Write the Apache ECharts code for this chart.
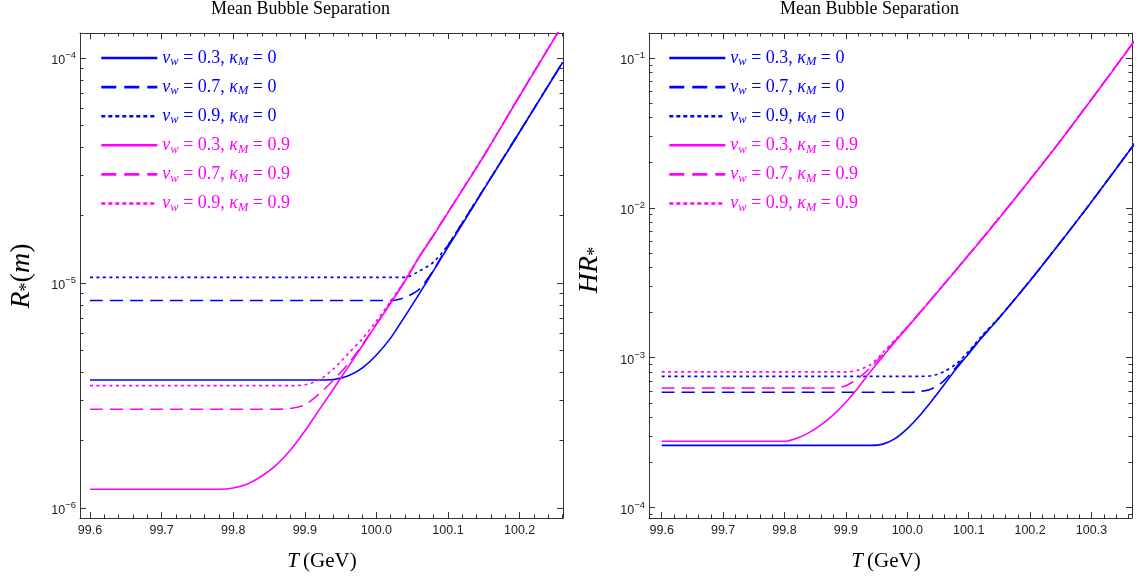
<!DOCTYPE html>
<html><head><meta charset="utf-8">
<script src="https://cdn.jsdelivr.net/npm/echarts@6/dist/echarts.min.js"></script>
<style>html,body{margin:0;padding:0;background:#fff}#c{width:1141px;height:581px}</style>
</head><body><div id="c"></div>
<script>
// ---------- data ----------
const seriesNames = ['vw=0.3,kM=0','vw=0.7,kM=0','vw=0.9,kM=0','vw=0.3,kM=0.9','vw=0.7,kM=0.9','vw=0.9,kM=0.9'];
const vwLabels = ['0.3','0.7','0.9','0.3','0.7','0.9'];
const kappaLabels = ['0','0','0','0.9','0.9','0.9'];

// Left panel: R_*(m) vs T (GeV)
const leftT = [99.6,99.7,99.78,99.8,99.82,99.84,99.86,99.88,99.9,99.92,99.94,99.96,99.98,100.0,100.02,100.04,100.06,100.08,100.1,100.12,100.15,100.2,100.26];
const leftR_vw03_k0 = [3.707e-6,3.707e-6,3.707e-6,3.707e-6,3.707e-6,3.707e-6,3.707e-6,3.707e-6,3.707e-6,3.707e-6,3.724e-6,3.864e-6,4.188e-6,4.786e-6,5.702e-6,7.129e-6,8.974e-6,1.138e-5,1.445e-5,1.828e-5,2.606e-5,4.688e-5,9.550e-5];
const leftR_vw07_k0 = [8.356e-6,8.356e-6,8.356e-6,8.356e-6,8.356e-6,8.356e-6,8.356e-6,8.356e-6,8.356e-6,8.356e-6,8.356e-6,8.356e-6,8.356e-6,8.356e-6,8.356e-6,8.630e-6,9.397e-6,1.143e-5,1.469e-5,1.849e-5,2.618e-5,4.699e-5,9.560e-5];
const leftR_vw09_k0 = [1.059e-5,1.059e-5,1.059e-5,1.059e-5,1.059e-5,1.059e-5,1.059e-5,1.059e-5,1.059e-5,1.059e-5,1.059e-5,1.059e-5,1.059e-5,1.059e-5,1.059e-5,1.059e-5,1.130e-5,1.239e-5,1.476e-5,1.858e-5,2.624e-5,4.700e-5,9.570e-5];
const leftR_vw03_k09 = [1.211e-6,1.211e-6,1.211e-6,1.227e-6,1.279e-6,1.387e-6,1.552e-6,1.811e-6,2.198e-6,2.729e-6,3.381e-6,4.207e-6,5.248e-6,6.546e-6,8.147e-6,1.021e-5,1.306e-5,1.633e-5,2.056e-5,2.588e-5,3.664e-5,6.776e-5,1.403e-4];
const leftR_vw07_k09 = [2.748e-6,2.748e-6,2.748e-6,2.748e-6,2.748e-6,2.748e-6,2.748e-6,2.767e-6,2.871e-6,3.214e-6,3.707e-6,4.345e-6,5.297e-6,6.577e-6,8.170e-6,1.024e-5,1.310e-5,1.638e-5,2.062e-5,2.595e-5,3.672e-5,6.790e-5,1.405e-4];
const leftR_vw09_k09 = [3.499e-6,3.499e-6,3.499e-6,3.499e-6,3.499e-6,3.499e-6,3.499e-6,3.499e-6,3.524e-6,3.707e-6,4.150e-6,4.831e-6,5.636e-6,6.776e-6,8.318e-6,1.030e-5,1.315e-5,1.640e-5,2.065e-5,2.600e-5,3.680e-5,6.800e-5,1.406e-4];

// Right panel: H R_* vs T (GeV)
const rightT = [99.6,99.7,99.8,99.82,99.84,99.86,99.88,99.9,99.92,99.94,99.96,99.98,100.0,100.02,100.04,100.06,100.08,100.1,100.12,100.15,100.2,100.25,100.3,100.37];
const rightHR_vw03_k0 = [2.600e-4,2.600e-4,2.600e-4,2.600e-4,2.600e-4,2.600e-4,2.600e-4,2.600e-4,2.600e-4,2.600e-4,2.649e-4,2.884e-4,3.365e-4,4.102e-4,5.164e-4,6.607e-4,8.453e-4,1.064e-3,1.340e-3,1.849e-3,3.258e-3,5.929e-3,1.096e-2,2.673e-2];
const rightHR_vw07_k0 = [5.875e-4,5.875e-4,5.875e-4,5.875e-4,5.875e-4,5.875e-4,5.875e-4,5.875e-4,5.875e-4,5.875e-4,5.875e-4,5.875e-4,5.875e-4,5.929e-4,6.209e-4,7.031e-4,8.710e-4,1.079e-3,1.349e-3,1.855e-3,3.265e-3,5.935e-3,1.097e-2,2.675e-2];
const rightHR_vw09_k0 = [7.499e-4,7.499e-4,7.499e-4,7.499e-4,7.499e-4,7.499e-4,7.499e-4,7.499e-4,7.499e-4,7.499e-4,7.499e-4,7.499e-4,7.499e-4,7.499e-4,7.586e-4,8.072e-4,9.120e-4,1.104e-3,1.380e-3,1.862e-3,3.270e-3,5.940e-3,1.098e-2,2.677e-2];
const rightHR_vw03_k09 = [2.767e-4,2.767e-4,2.767e-4,2.904e-4,3.162e-4,3.573e-4,4.169e-4,5.047e-4,6.310e-4,8.072e-4,1.016e-3,1.279e-3,1.585e-3,1.982e-3,2.472e-3,3.090e-3,3.864e-3,4.842e-3,6.067e-3,8.570e-3,1.538e-2,2.818e-2,5.284e-2,1.297e-1];
const rightHR_vw07_k09 = [6.281e-4,6.281e-4,6.281e-4,6.281e-4,6.281e-4,6.281e-4,6.281e-4,6.501e-4,7.295e-4,8.570e-4,1.047e-3,1.297e-3,1.596e-3,1.992e-3,2.484e-3,3.105e-3,3.883e-3,4.866e-3,6.097e-3,8.610e-3,1.545e-2,2.830e-2,5.310e-2,1.303e-1];
const rightHR_vw09_k09 = [8.035e-4,8.035e-4,8.035e-4,8.035e-4,8.035e-4,8.035e-4,8.035e-4,8.035e-4,8.260e-4,8.974e-4,1.079e-3,1.318e-3,1.611e-3,1.995e-3,2.488e-3,3.110e-3,3.890e-3,4.870e-3,6.100e-3,8.620e-3,1.546e-2,2.832e-2,5.315e-2,1.304e-1];

// tick labels
const xTickLabelsLeft = [99.6,99.7,99.8,99.9,100.0,100.1,100.2];
const xTickLabelsRight = [99.6,99.7,99.8,99.9,100.0,100.1,100.2,100.3];
const yDecadesLeft = [-6,-5,-4];
const yDecadesRight = [-4,-3,-2,-1];
const titles = ['Mean Bubble Separation','Mean Bubble Separation'];

// ---------- chart ----------
const BLUE = '#0000ff', MAG = '#ff00ff', FRAME = '#333';
const colors = [BLUE,BLUE,BLUE,MAG,MAG,MAG];
const dashes = ['solid',[13,7],[3,3.5],'solid',[13,7],[3,3.5]];
const legendDashes = ['solid',[15,8],[4,3],'solid',[15,8],[4,3]];

function minorX(lo, hi){ const o=[]; for(let k=Math.ceil(lo*50);k<=Math.floor(hi*50);k++){ if(k%5!==0) o.push(k/50);} return o; }
function minorY(lo, hi){ const o=[]; for(let n=Math.floor(lo);n<=Math.ceil(hi);n++){ for(let m=2;m<=9;m++){ const v=n+Math.log10(m); if(v>=lo&&v<=hi) o.push(v);} } return o; }

const tickBase = {show:true, inside:true, length:6, lineStyle:{color:FRAME, width:1}};
function makeX(g, min, max, majors){
  const base = {type:'value', gridIndex:g, min, max, splitLine:{show:false},
    axisLine:{show:true,onZero:false,lineStyle:{color:FRAME,width:1}}, axisLabel:{show:false}};
  const mn = minorX(min,max);
  return [
    Object.assign({}, base, {position:'bottom', axisTick:Object.assign({},tickBase,{customValues:majors}),
      axisLabel:{show:true, customValues:majors, formatter:v=>Number(v).toFixed(1), color:'#222', fontSize:12.5, fontFamily:'Liberation Sans', margin:6}}),
    Object.assign({}, base, {position:'bottom', axisLine:{show:false}, axisTick:Object.assign({},tickBase,{length:3.5,customValues:mn})}),
    Object.assign({}, base, {position:'top', axisTick:Object.assign({},tickBase,{customValues:majors})}),
    Object.assign({}, base, {position:'top', axisLine:{show:false}, axisTick:Object.assign({},tickBase,{length:3.5,customValues:mn})})
  ];
}
function makeY(g, min, max, decs){
  const base = {type:'value', gridIndex:g, min, max, splitLine:{show:false},
    axisLine:{show:true,onZero:false,lineStyle:{color:FRAME,width:1}}, axisLabel:{show:false}};
  const mn = minorY(min,max);
  return [
    Object.assign({}, base, {position:'left', axisTick:Object.assign({},tickBase,{customValues:decs}),
      axisLabel:{show:true, customValues:decs, margin:4,
        formatter:v=>'{b|10}{s|\u2212'+Math.round(-v)+'}',
        rich:{b:{fontSize:12.5,fontFamily:'Liberation Sans',color:'#222',padding:[6,0,0,0]},
              s:{fontSize:9.5,fontFamily:'Liberation Sans',color:'#222',padding:[0,0,5,0]}}}}),
    Object.assign({}, base, {position:'left', axisLine:{show:false}, axisTick:Object.assign({},tickBase,{length:3.5,customValues:mn})}),
    Object.assign({}, base, {position:'right', axisTick:Object.assign({},tickBase,{customValues:decs})}),
    Object.assign({}, base, {position:'right', axisLine:{show:false}, axisTick:Object.assign({},tickBase,{length:3.5,customValues:mn})})
  ];
}

const leftVals = [leftR_vw03_k0,leftR_vw07_k0,leftR_vw09_k0,leftR_vw03_k09,leftR_vw07_k09,leftR_vw09_k09];
const rightVals = [rightHR_vw03_k0,rightHR_vw07_k0,rightHR_vw09_k0,rightHR_vw03_k09,rightHR_vw07_k09,rightHR_vw09_k09];

const series = [];
[[leftT,leftVals],[rightT,rightVals]].forEach(([T,vals],g)=>{
  vals.forEach((arr,i)=>{
    series.push({type:'line', name:seriesNames[i], xAxisIndex:g*4, yAxisIndex:g*4,
      data:T.map((t,k)=>[t, Math.log10(arr[k])]),
      symbol:'none', showSymbol:false, smooth:0.25, clip:true,
      lineStyle:{color:colors[i], width:1.6, type:dashes[i]}, itemStyle:{color:colors[i]},
      emphasis:{disabled:true}, z:2+i});
  });
});

const legendRich = {
  i:{fontFamily:'Liberation Serif',fontStyle:'italic',fontSize:18},
  n:{fontFamily:'Liberation Serif',fontSize:18},
  sub:{fontFamily:'Liberation Serif',fontStyle:'italic',fontSize:12.5,padding:[8,0,0,0]}
};
function legendOf(left){
  return {orient:'vertical', left, top:48, itemWidth:56, itemHeight:12, itemGap:8.6, padding:0,
    selectedMode:false,
    itemStyle:{color:'rgba(0,0,0,0)', borderColor:'rgba(0,0,0,0)', borderWidth:0, opacity:0},
    data:seriesNames.map((n,i)=>({name:n, textStyle:{color:colors[i]},
      lineStyle:{width:2.6, type:legendDashes[i], color:colors[i]}})),
    formatter:name=>{const i=seriesNames.indexOf(name);
      return '{i|v}{sub|w}{n| = '+vwLabels[i]+', }{i|\u03ba}{sub|M}{n| = '+kappaLabels[i]+'}';},
    textStyle:{fontFamily:'Liberation Serif',fontSize:18,lineHeight:20,rich:legendRich}};
}

const serif = 'Liberation Serif';
const option = {
  animation:false,
  backgroundColor:'#fff',
  title:[
    {text:titles[0], left:211, top:0, padding:0, textStyle:{fontFamily:serif,fontWeight:'normal',fontSize:18,color:'#000'}},
    {text:titles[1], left:780, top:0, padding:0, textStyle:{fontFamily:serif,fontWeight:'normal',fontSize:18,color:'#000'}}
  ],
  grid:[{left:80, top:33, width:483, height:485},{left:649, top:33, width:483, height:485}],
  xAxis:[].concat(makeX(0,99.586,100.2606,xTickLabelsLeft), makeX(1,99.5793,100.366,xTickLabelsRight)),
  yAxis:[].concat(makeY(0,-6.0444,-3.8889,yDecadesLeft), makeY(1,-4.07,-0.833,yDecadesRight)),
  legend:[legendOf(100), legendOf(668)],
  series,
  graphic:[
    {type:'text', x:22, y:276, rotation:Math.PI/2, style:{text:'{i|R}{s|*}{n|(}{i|m}{n|)}', align:'center', verticalAlign:'middle', fill:'#000',
      rich:{i:{fontFamily:serif,fontStyle:'italic',fontSize:28},n:{fontFamily:serif,fontSize:28},s:{fontFamily:serif,fontSize:18,padding:[11,0,0,0]}}}},
    {type:'text', x:590, y:270, rotation:Math.PI/2, style:{text:'{i|HR}{s|*}', align:'center', verticalAlign:'middle', fill:'#000',
      rich:{i:{fontFamily:serif,fontStyle:'italic',fontSize:28},s:{fontFamily:serif,fontSize:18,padding:[11,0,0,0]}}}},
    {type:'text', x:322, y:561, style:{text:'{i|T}{n|\u2009(GeV)}', align:'center', verticalAlign:'middle', fill:'#000',
      rich:{i:{fontFamily:serif,fontStyle:'italic',fontSize:21},n:{fontFamily:serif,fontSize:21}}}},
    {type:'text', x:886, y:561, style:{text:'{i|T}{n|\u2009(GeV)}', align:'center', verticalAlign:'middle', fill:'#000',
      rich:{i:{fontFamily:serif,fontStyle:'italic',fontSize:21},n:{fontFamily:serif,fontSize:21}}}}
  ]
};
const chart = echarts.init(document.getElementById('c'), null, {renderer:'canvas'});
chart.setOption(option);
</script></body></html>
